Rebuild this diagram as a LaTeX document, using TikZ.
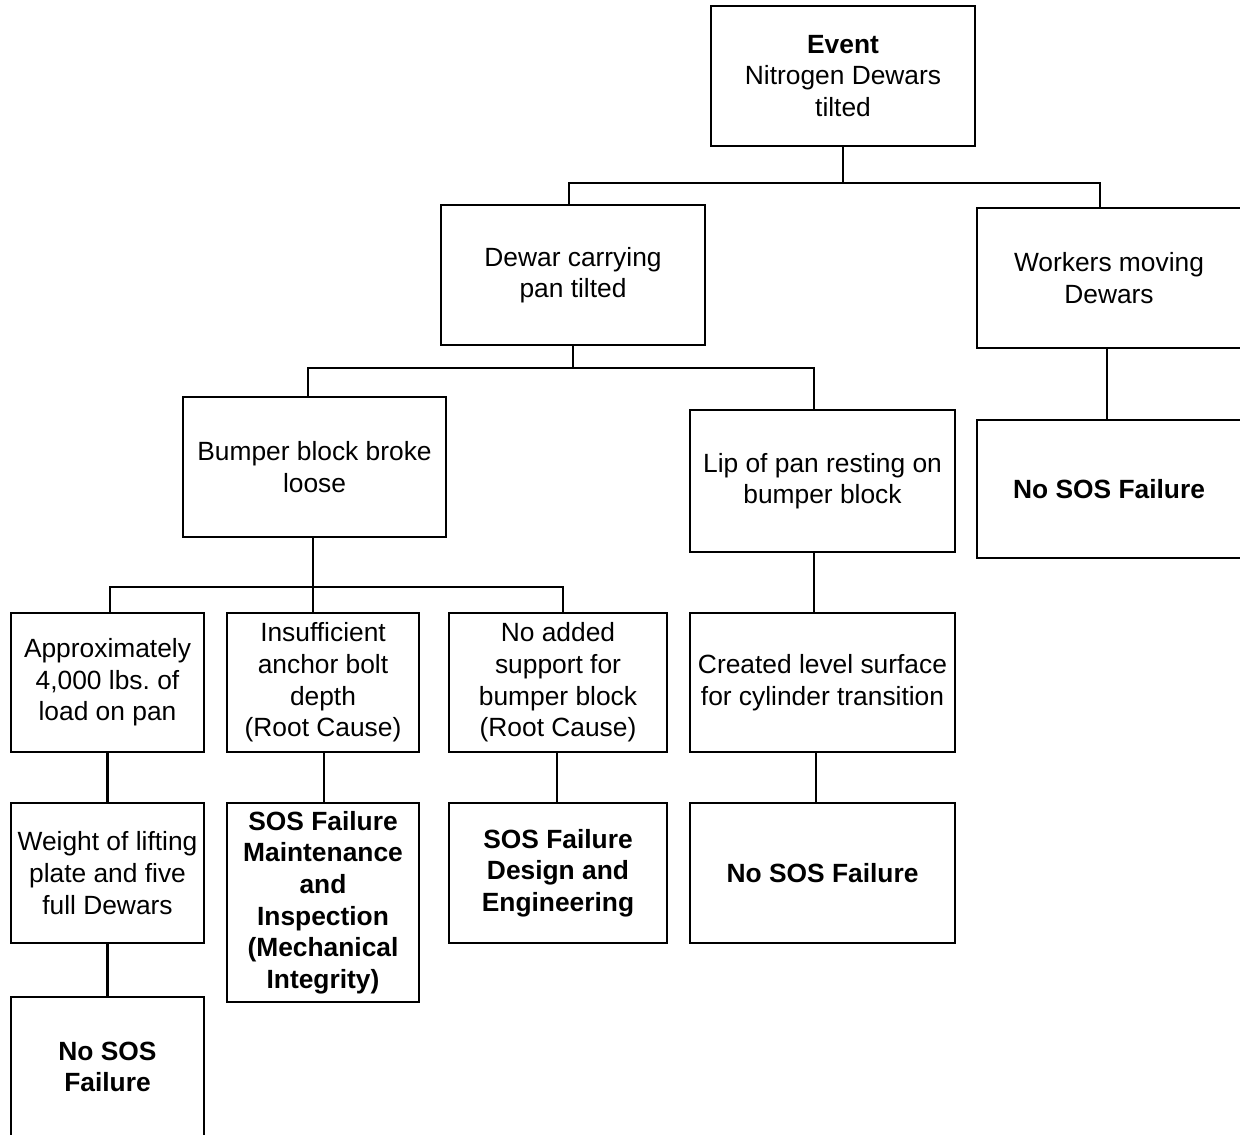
\documentclass[tikz,border=0pt]{standalone}
\usepackage{fontspec}
\setmainfont{Liberation Sans}
\usetikzlibrary{positioning,calc}

\begin{document}
\frenchspacing
\begin{tikzpicture}[
  x=0.02cm, y=-0.02cm, font=\fontsize{15}{18}\selectfont,
  cause/.style={draw=black, line width=1.3pt, align=center, inner sep=0pt,
                minimum width=#1, minimum height=2.8cm},
  link/.style={draw=black, line width=1.2pt},
]
\useasboundingbox (0,0) rectangle (1240,1134);
\clip (0,0) rectangle (1240,1134);

% top event and first split
\node[cause=5.28cm] (event) at (843,76) {\textbf{Event}\\Nitrogen Dewars\\tilted};
\node[cause=5.28cm] (pan) at (573,275) {Dewar carrying\\pan tilted};
\node[cause=5.28cm] (work) at (1109,278) {Workers moving\\Dewars};
\node[cause=5.28cm, minimum height=2.76cm] (nososR) at (1109,489) {\textbf{No SOS Failure}};

% second level
\node[cause=5.26cm] (bump) at (314.5,467) {Bumper block broke\\loose};
\node[cause=5.3cm, minimum height=2.84cm] (lip) at (822.5,481) {Lip of pan resting on\\bumper block};

% third level
\node[cause=3.86cm, minimum height=2.78cm] (approx) at (107.5,682.5) {Approximately\\4,000 lbs. of\\load on pan};
\node[cause=3.84cm, minimum height=2.78cm] (insuf) at (323,682.5) {Insufficient\\anchor bolt\\depth\\(Root Cause)};
\node[cause=4.36cm, minimum height=2.78cm] (noadd) at (558,682.5) {No added\\support for\\bumper block\\(Root Cause)};
\node[cause=5.3cm, minimum height=2.78cm] (level) at (822.5,682.5) {Created level surface\\for cylinder transition};

% fourth level
\node[cause=3.86cm] (weight) at (107.5,873) {Weight of lifting\\plate and five\\full Dewars};
\node[cause=3.84cm, minimum height=3.98cm] (maint) at (323,902.5)
  {\textbf{SOS Failure}\\\textbf{Maintenance}\\\textbf{and}\\\textbf{Inspection}\\\textbf{(Mechanical}\\\textbf{Integrity)}};
\node[cause=4.36cm] (design) at (558,873) {\textbf{SOS Failure}\\\textbf{Design and}\\\textbf{Engineering}};
\node[cause=5.3cm] (nososM) at (822.5,873) {\textbf{No SOS Failure}};
\node[cause=3.86cm] (nososB) at (107.5,1067) {\textbf{No SOS}\\\textbf{Failure}};

% bus heights
\coordinate (busA) at (0,183);
\coordinate (busB) at (0,368);
\coordinate (busC) at (0,587);

% attach points where the lines sit off centre
\coordinate (panT) at ($(pan.north)+(-4,0)$);
\coordinate (workT) at ($(work.north)+(-9,0)$);
\coordinate (workB) at ($(work.south)+(-2,0)$);
\coordinate (bumpT) at ($(bump.north)+(-6.5,0)$);
\coordinate (bumpB) at ($(bump.south)+(-1.5,0)$);
\coordinate (lipT) at ($(lip.north)+(-8.5,0)$);
\coordinate (lipB) at ($(lip.south)+(-8.5,0)$);
\coordinate (approxT) at ($(approx.north)+(2.5,0)$);
\coordinate (insufT) at ($(insuf.north)+(-10,0)$);
\coordinate (insufB) at ($(insuf.south)+(1,0)$);
\coordinate (noaddT) at ($(noadd.north)+(5,0)$);
\coordinate (noaddB) at ($(noadd.south)+(-1,0)$);
\coordinate (levelB) at ($(level.south)+(-6.5,0)$);

% connectors
\draw[link] (event.south) -- (event.south |- busA);
\draw[link] (panT) |- (workT |- busA) -- (workT);
\draw[link] (pan.south) -- (pan.south |- busB);
\draw[link] (bumpT) |- (lipT |- busB) -- (lipT);
\draw[link] (bumpB) -- (bumpB |- busC);
\draw[link] (approxT) |- (noaddT |- busC) -- (noaddT);
\draw[link] (insufT) -- (insufT |- busC);
\draw[link] (workB) -- (workB |- nososR.north);
\draw[link] (lipB) -- (lipB |- level.north);
\draw[link] (approx.south) -- (weight.north);
\draw[link] (insufB) -- (insufB |- maint.north);
\draw[link] (noaddB) -- (noaddB |- design.north);
\draw[link] (levelB) -- (levelB |- nososM.north);
\draw[link] (weight.south) -- (nososB.north);
\end{tikzpicture}
\end{document}
